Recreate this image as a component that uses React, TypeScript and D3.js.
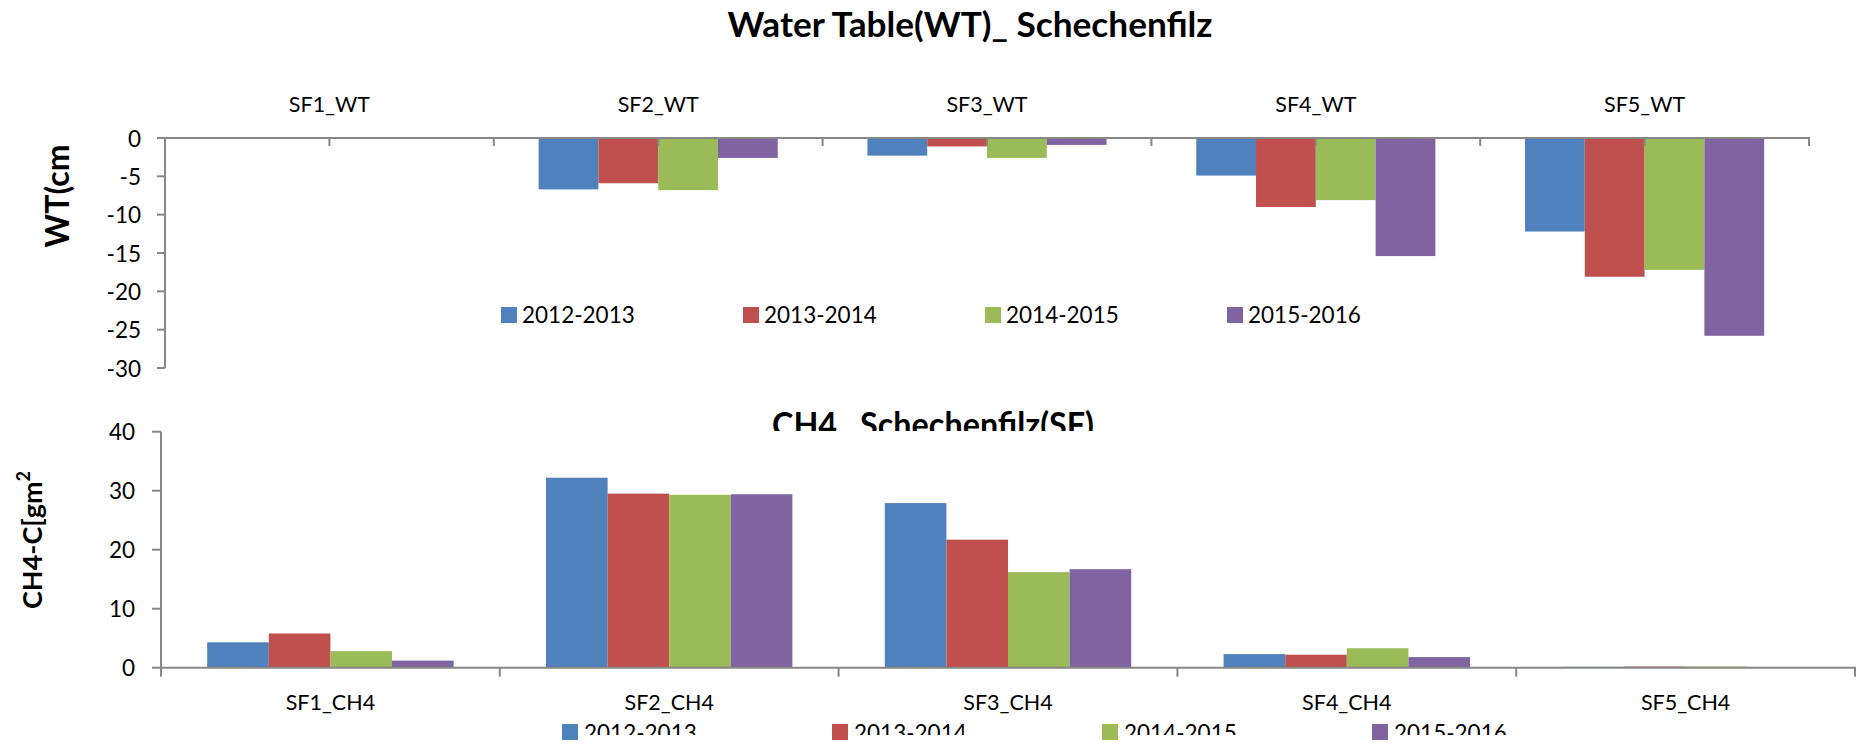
import React from "react";
import * as d3 from "d3";

const categoriesWT = ["SF1_WT", "SF2_WT", "SF3_WT", "SF4_WT", "SF5_WT"];
const categoriesCH4 = ["SF1_CH4", "SF2_CH4", "SF3_CH4", "SF4_CH4", "SF5_CH4"];
const seriesNames = ["2012-2013", "2013-2014", "2014-2015", "2015-2016"];
const seriesColors = ["#4F81BD", "#C0504D", "#9BBB59", "#8064A2"];

const wt2012 = [null, -6.7, -2.3, -4.9, -12.2];
const wt2013 = [null, -5.9, -1.1, -9.0, -18.1];
const wt2014 = [null, -6.8, -2.6, -8.1, -17.2];
const wt2015 = [null, -2.6, -0.9, -15.4, -25.8];

const ch4_2012 = [4.3, 32.2, 27.9, 2.3, 0.15];
const ch4_2013 = [5.8, 29.5, 21.7, 2.2, 0.2];
const ch4_2014 = [2.8, 29.3, 16.2, 3.3, 0.2];
const ch4_2015 = [1.2, 29.4, 16.7, 1.8, 0];

const wtTicks = [0, -5, -10, -15, -20, -25, -30];
const ch4Ticks = [0, 10, 20, 30, 40];

const wtSeries = [wt2012, wt2013, wt2014, wt2015];
const ch4Series = [ch4_2012, ch4_2013, ch4_2014, ch4_2015];

const FONT = "Lato, 'Open Sans', sans-serif";
const AXIS = "#878787";

export default function App() {
  // ---- top chart (Water table) ----
  const tx = d3.scaleBand<string>().domain(categoriesWT).range([165, 1809]).padding(0);
  const tW = tx.bandwidth();
  const tGap = tW * 1.5 / 5.5;
  const tInner = d3.scaleBand<number>().domain([0, 1, 2, 3]).range([tGap / 2, tW - tGap / 2]).padding(0);
  const ty = d3.scaleLinear().domain([-30, 0]).range([368, 138]);
  const tTicksX: number[] = [];
  categoriesWT.forEach((c) => {
    tTicksX.push(tx(c)!);
    tTicksX.push(tx(c)! + tW / 2);
  });
  tTicksX.push(1809);

  // ---- bottom chart (CH4) ----
  const bx = d3.scaleBand<string>().domain(categoriesCH4).range([161, 1855]).padding(0);
  const bW = bx.bandwidth();
  const bGap = bW * 1.5 / 5.5;
  const bInner = d3.scaleBand<number>().domain([0, 1, 2, 3]).range([bGap / 2, bW - bGap / 2]).padding(0);
  const by = d3.scaleLinear().domain([0, 40]).range([667.7, 431.7]);
  const bTicksX = categoriesCH4.map((c) => bx(c)!).concat([1855]);

  const topLegendX = d3.scaleLinear().domain([0, 1]).range([501, 743]);
  const botLegendX = d3.scaleLinear().domain([0, 1]).range([562, 832]);

  return (
    <svg width={1862} height={749} style={{ position: "absolute", left: 0, top: 0, background: "#fff" }} fontFamily={FONT}>
      <defs>
        <clipPath id="titleClip">
          <rect x={0} y={0} width={1862} height={431} />
        </clipPath>
        <clipPath id="legClip">
          <rect x={0} y={0} width={1862} height={735} />
        </clipPath>
      </defs>
      <rect x={0} y={0} width={1862} height={749} fill="#fff" />

      {/* Top title */}
      <text x={970} y={37} textAnchor="middle" fontWeight="bold" fontSize={34} fill="#000" textLength={485} lengthAdjust="spacingAndGlyphs">
        Water Table(WT)_ Schechenfilz
      </text>

      {/* Top bars */}
      {wtSeries.map((s, si) =>
        s.map((v, ci) =>
          v == null ? null : (
            <rect
              key={`t${si}-${ci}`}
              x={tx(categoriesWT[ci])! + tInner(si)!}
              y={ty(0)}
              width={tInner.bandwidth()}
              height={ty(v) - ty(0)}
              fill={seriesColors[si]}
            />
          )
        )
      )}

      {/* Top axes */}
      <line x1={165} x2={165} y1={ty(0)} y2={ty(-30)} stroke={AXIS} strokeWidth={2} />
      {wtTicks.map((t) => (
        <g key={`wty${t}`}>
          <line x1={157} x2={165} y1={ty(t)} y2={ty(t)} stroke={AXIS} strokeWidth={2} />
          <text x={141} y={ty(t)} textAnchor="end" dominantBaseline="central" fontSize={22.5} fill="#000">
            {t}
          </text>
        </g>
      ))}
      <line x1={164} x2={1810} y1={ty(0)} y2={ty(0)} stroke={AXIS} strokeWidth={2} />
      {tTicksX.map((x, i) => (
        <line key={`wtx${i}`} x1={x} x2={x} y1={ty(0)} y2={ty(0) + 8} stroke={AXIS} strokeWidth={2} />
      ))}
      {categoriesWT.map((c) => (
        <text key={c} x={tx(c)! + tW / 2} y={112} textAnchor="middle" fontSize={21.5} fill="#000">
          {c}
        </text>
      ))}
      <text transform="translate(69,196) rotate(-90)" textAnchor="middle" fontWeight="bold" fontSize={32} fill="#000">
        WT(cm
      </text>

      {/* Top legend */}
      {seriesNames.map((n, i) => (
        <g key={`tl${n}`}>
          <rect x={topLegendX(i)} y={307} width={16} height={16} fill={seriesColors[i]} />
          <text x={topLegendX(i) + 21} y={323} fontSize={22.5} fill="#000">
            {n}
          </text>
        </g>
      ))}

      {/* Bottom title (clipped by plot area) */}
      <text x={933} y={437} textAnchor="middle" fontWeight="bold" fontSize={34} fill="#000" clipPath="url(#titleClip)" textLength={322} lengthAdjust="spacingAndGlyphs">
        CH4_ Schechenfilz(SF)
      </text>

      {/* Bottom bars */}
      {ch4Series.map((s, si) =>
        s.map((v, ci) =>
          v == null || v === 0 ? null : (
            <rect
              key={`b${si}-${ci}`}
              x={bx(categoriesCH4[ci])! + bInner(si)!}
              y={by(v)}
              width={bInner.bandwidth()}
              height={by(0) - by(v)}
              fill={seriesColors[si]}
            />
          )
        )
      )}

      {/* Bottom axes */}
      <line x1={161} x2={161} y1={by(40)} y2={by(0)} stroke={AXIS} strokeWidth={2} />
      {ch4Ticks.map((t) => (
        <g key={`chy${t}`}>
          <line x1={152} x2={161} y1={by(t)} y2={by(t)} stroke={AXIS} strokeWidth={2} />
          <text x={135} y={by(t)} textAnchor="end" dominantBaseline="central" fontSize={22.5} fill="#000">
            {t}
          </text>
        </g>
      ))}
      <line x1={160} x2={1856} y1={by(0)} y2={by(0)} stroke={AXIS} strokeWidth={2} />
      {bTicksX.map((x, i) => (
        <line key={`chx${i}`} x1={x} x2={x} y1={by(0)} y2={by(0) + 9} stroke={AXIS} strokeWidth={2} />
      ))}
      {categoriesCH4.map((c) => (
        <text key={c} x={bx(c)! + bW / 2} y={710} textAnchor="middle" fontSize={21.5} fill="#000">
          {c}
        </text>
      ))}
      <text transform="translate(42,540) rotate(-90)" textAnchor="middle" fontWeight="bold" fontSize={27} fill="#000">
        CH4-C[gm<tspan fontSize={18} dy={-12}>2</tspan>
      </text>

      {/* Bottom legend */}
      {seriesNames.map((n, i) => (
        <g key={`bl${n}`}>
          <rect x={botLegendX(i)} y={724} width={16} height={16} fill={seriesColors[i]} />
          <text x={botLegendX(i) + 22} y={741} fontSize={22.5} fill="#000" clipPath="url(#legClip)">
            {n}
          </text>
        </g>
      ))}
    </svg>
  );
}
